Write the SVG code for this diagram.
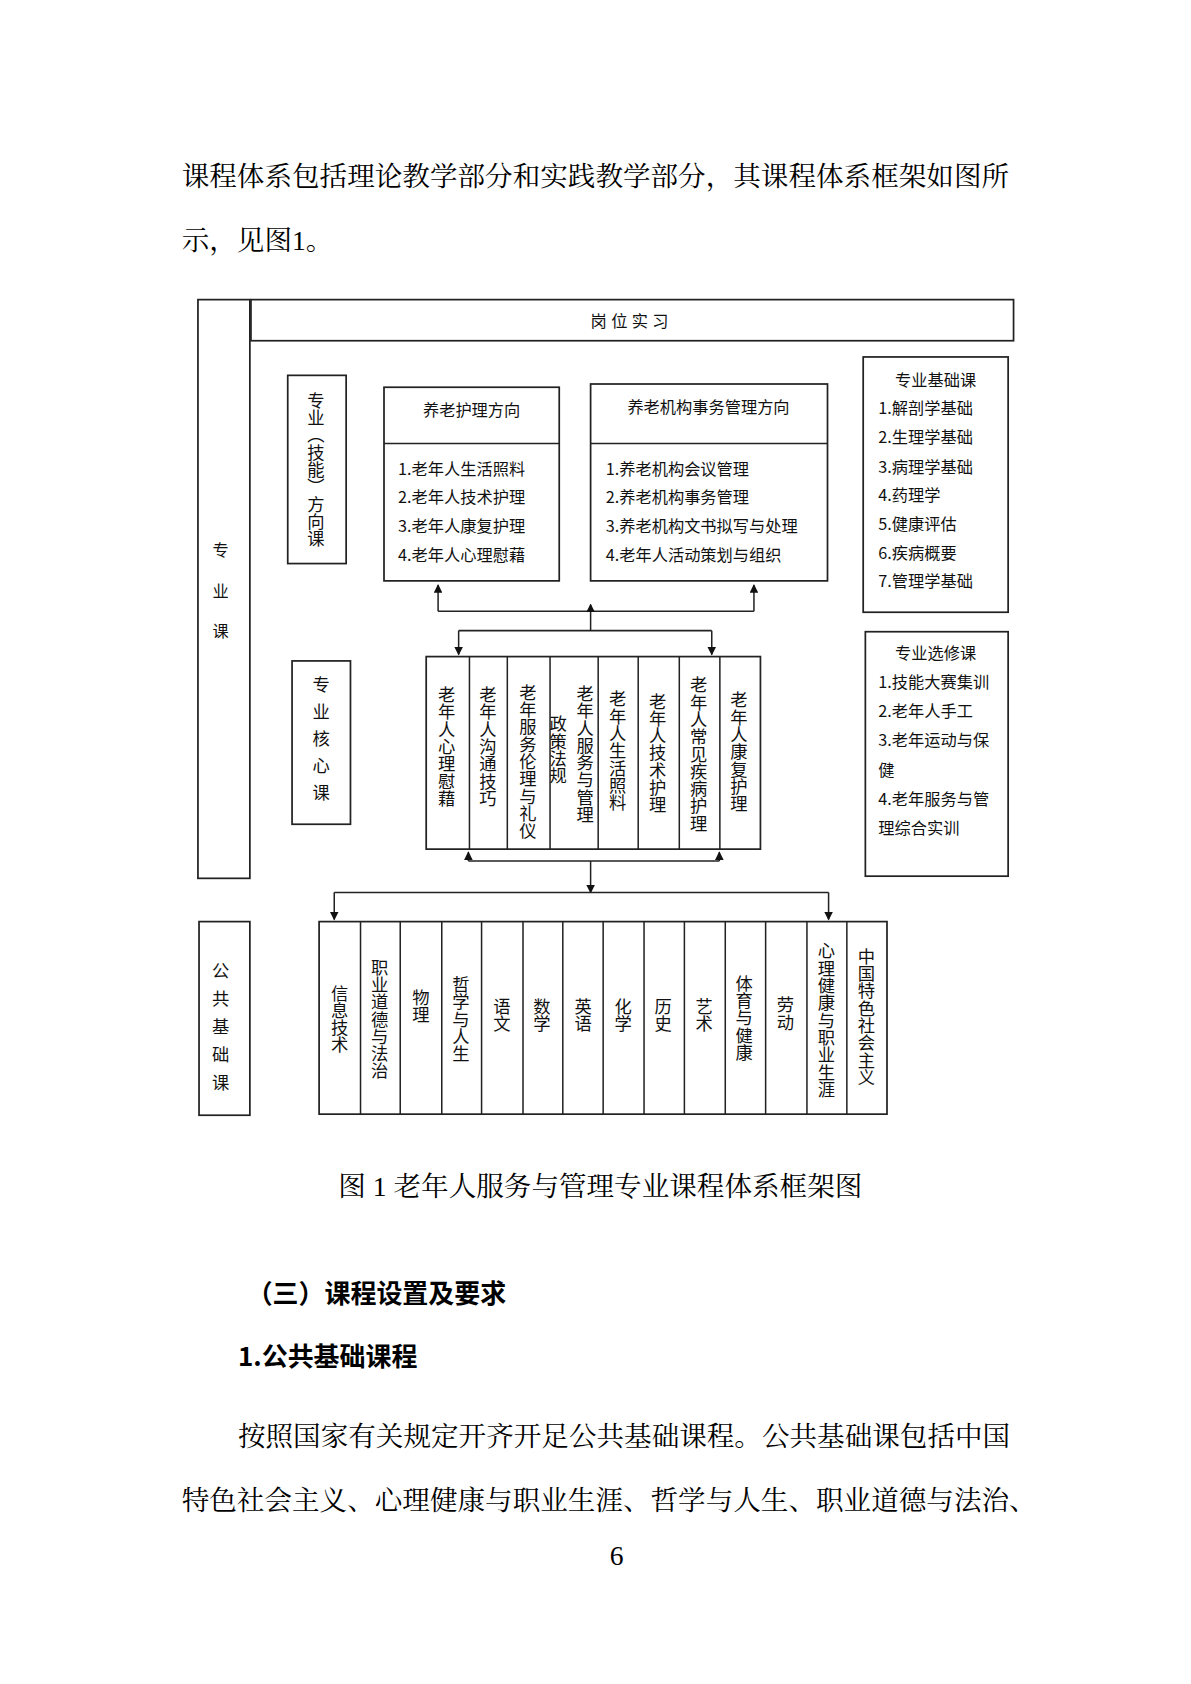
<svg xmlns="http://www.w3.org/2000/svg" width="1191" height="1684" viewBox="0 0 1191 1684">
<defs>
<style>
.b{fill:#fff;stroke:#222;stroke-width:1.6}
.l{fill:none;stroke:#222;stroke-width:1.4}
.t{font-family:"Noto Sans CJK SC",sans-serif;font-size:15px;fill:#111}
.v{font-family:"Noto Sans CJK SC",sans-serif;font-size:16px;fill:#111;writing-mode:vertical-rl;text-anchor:middle}
.p{font-family:"Liberation Serif","Noto Serif CJK SC","Noto Sans CJK SC",serif;font-size:25.5px;fill:#000}
.h{font-family:"Noto Sans CJK SC",sans-serif;font-size:24px;font-weight:bold;fill:#000}
</style>
<marker id="a" markerWidth="8" markerHeight="8" refX="7" refY="4" orient="auto" markerUnits="userSpaceOnUse"><path d="M0,0 L8,4 L0,8 z" fill="#111"/></marker>
</defs>
<rect width="1191" height="1684" fill="#fff"/>
<g transform="scale(1.0817)">
<g id="body-top">
<text class="p" x="168" y="172">课程体系包括理论教学部分和实践教学部分，其课程体系框架如图所</text>
<text class="p" x="168" y="231">示，见图1。</text>
</g>
<g id="zyk"><rect class="b" x="183" y="277" width="48" height="535"/>
<text class="t" x="204" y="514" text-anchor="middle" font-size="17">专</text>
<text class="t" x="204" y="552" text-anchor="middle" font-size="17">业</text>
<text class="t" x="204" y="589" text-anchor="middle" font-size="17">课</text></g>
<g id="gwsx"><rect class="b" x="232" y="277" width="705" height="38"/>
<text class="t" x="584" y="302" text-anchor="middle" letter-spacing="4">岗位实习</text></g>
<g id="fxk"><rect class="b" x="266" y="347" width="54" height="174"/>
<text class="v" x="292" y="434">专业（技能）方向课</text></g>
<g id="ylhl"><rect class="b" x="355" y="358" width="162" height="179"/>
<line class="l" x1="355" y1="410" x2="517" y2="410"/>
<text class="t" x="436" y="385" text-anchor="middle">养老护理方向</text>
<text class="t" x="368" y="439">1.老年人生活照料</text>
<text class="t" x="368" y="465">2.老年人技术护理</text>
<text class="t" x="368" y="492">3.老年人康复护理</text>
<text class="t" x="368" y="519">4.老年人心理慰藉</text></g>
<g id="jgsw"><rect class="b" x="546" y="355" width="219" height="182"/>
<line class="l" x1="546" y1="410" x2="765" y2="410" stroke-width="2.5"/>
<text class="t" x="655" y="382" text-anchor="middle">养老机构事务管理方向</text>
<text class="t" x="560" y="439">1.养老机构会议管理</text>
<text class="t" x="560" y="465">2.养老机构事务管理</text>
<text class="t" x="560" y="492">3.养老机构文书拟写与处理</text>
<text class="t" x="560" y="519">4.老年人活动策划与组织</text></g>
<g id="jck"><rect class="b" x="798" y="330" width="134" height="236"/>
<text class="t" x="865" y="357" text-anchor="middle">专业基础课</text>
<text class="t" x="812" y="383">1.解剖学基础</text>
<text class="t" x="812" y="410">2.生理学基础</text>
<text class="t" x="812" y="437">3.病理学基础</text>
<text class="t" x="812" y="463">4.药理学</text>
<text class="t" x="812" y="490">5.健康评估</text>
<text class="t" x="812" y="517">6.疾病概要</text>
<text class="t" x="812" y="543">7.管理学基础</text></g>
<g id="xxk"><rect class="b" x="800" y="584" width="132" height="226"/>
<text class="t" x="865" y="609" text-anchor="middle">专业选修课</text>
<text class="t" x="812" y="636">1.技能大赛集训</text>
<text class="t" x="812" y="663">2.老年人手工</text>
<text class="t" x="812" y="690">3.老年运动与保</text>
<text class="t" x="812" y="717">健</text>
<text class="t" x="812" y="744">4.老年服务与管</text>
<text class="t" x="812" y="771">理综合实训</text></g>
<g id="hxk"><rect class="b" x="270" y="611" width="54" height="151"/>
<text class="v" x="297" y="687" letter-spacing="9">专业核心课</text></g>
<g id="core"><rect class="b" x="394" y="607" width="309" height="178"/>
<path class="l" d="M434,607V785M469,607V785M508.5,607V785M553,607V785M590,607V785M628,607V785M665.5,607V785"/>
<text class="v" x="413" y="690">老年人心理慰藉</text>
<text class="v" x="451" y="690">老年人沟通技巧</text>
<text class="v" x="488" y="704">老年服务伦理与礼仪</text>
<text class="v" x="541" y="697">老年人服务与管理</text>
<text class="v" x="516" y="693">政策法规</text>
<text class="v" x="571" y="694">老年人生活照料</text>
<text class="v" x="608" y="696">老年人技术护理</text>
<text class="v" x="646" y="697">老年人常见疾病护理</text>
<text class="v" x="683" y="695">老年人康复护理</text></g>
<g id="ggk"><rect class="b" x="184" y="852" width="47" height="179"/>
<text class="v" x="204" y="954" letter-spacing="10">公共基础课</text></g>
<g id="pub"><rect class="b" x="295" y="852" width="525" height="178"/>
<path class="l" d="M333.3,852V1030M370,852V1030M408.4,852V1030M445.2,852V1030M483.5,852V1030M520.3,852V1030M557.6,852V1030M595.4,852V1030M632.7,852V1030M670.5,852V1030M707.8,852V1030M746,852V1030M782.9,852V1030"/>
<text class="v" x="314" y="942">信息技术</text>
<text class="v" x="351" y="942">职业道德与法治</text>
<text class="v" x="389" y="930">物理</text>
<text class="v" x="426" y="942">哲学与人生</text>
<text class="v" x="464" y="938">语文</text>
<text class="v" x="501" y="938">数学</text>
<text class="v" x="539" y="938">英语</text>
<text class="v" x="576" y="938">化学</text>
<text class="v" x="613" y="938">历史</text>
<text class="v" x="651" y="938">艺术</text>
<text class="v" x="688" y="941">体育与健康</text>
<text class="v" x="726" y="937">劳动</text>
<text class="v" x="764" y="943">心理健康与职业生涯</text>
<text class="v" x="801" y="940">中国特色社会主义</text></g>
<g id="connectors">
<path class="l" d="M405,565H697"/>
<path class="l" d="M405,565V541" marker-end="url(#a)"/>
<path class="l" d="M697,565V541" marker-end="url(#a)"/>
<path class="l" d="M546,583V559" marker-end="url(#a)"/>
<path class="l" d="M424,583H658"/>
<path class="l" d="M424,583V605" marker-end="url(#a)"/>
<path class="l" d="M658,583V605" marker-end="url(#a)"/>
<path class="l" d="M433,796H665"/>
<path class="l" d="M433,796V788" marker-end="url(#a)"/>
<path class="l" d="M665,796V788" marker-end="url(#a)"/>
<path class="l" d="M546,796V825" marker-end="url(#a)"/>
<path class="l" d="M309,825H766"/>
<path class="l" d="M309,825V850" marker-end="url(#a)"/>
<path class="l" d="M766,825V850" marker-end="url(#a)"/>
</g>
<g id="body-bottom">
<text class="p" x="555" y="1106" text-anchor="middle" font-size="23">图 1  老年人服务与管理专业课程体系框架图</text>
<text class="h" x="228" y="1205">（三）课程设置及要求</text>
<text class="h" x="220" y="1263">1.公共基础课程</text>
<text class="p" x="220" y="1337">按照国家有关规定开齐开足公共基础课程。公共基础课包括中国</text>
<text class="p" x="168" y="1396">特色社会主义、心理健康与职业生涯、哲学与人生、职业道德与法治、</text>
<text class="p" x="570" y="1447" font-size="13" text-anchor="middle">6</text>
</g>
</g>
</svg>
